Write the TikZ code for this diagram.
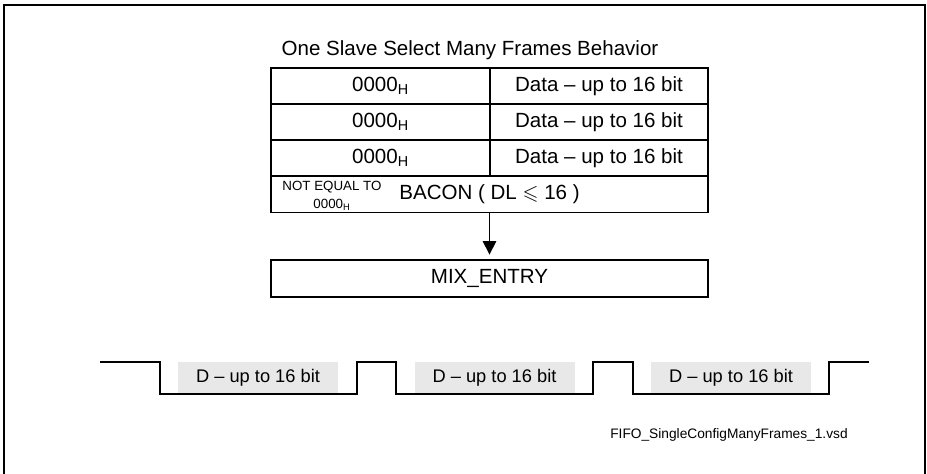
\documentclass[tikz,border=0pt]{standalone}
\usepackage{amssymb}
\usepackage{fontspec}
\setmainfont{Liberation Sans}
\usetikzlibrary{arrows.meta,positioning}
\definecolor{framegray}{HTML}{E8E8E8}

\begin{document}
\begin{tikzpicture}[x=.75pt,y=-.75pt,font=\fontsize{15.4}{18}\selectfont,
    line width=1.1pt,
    cell/.style={draw,inner sep=0pt,minimum height=27pt},
    idcell/.style={cell,minimum width=164.3pt},
    datacell/.style={cell,minimum width=163.5pt},
    widecell/.style={cell,minimum width=327.8pt},
    dframe/.style={fill=framegray,inner sep=0pt,minimum width=120pt,minimum height=24pt,font=\fontsize{13.7}{16}\selectfont},
    smalltext/.style={font=\fontsize{10}{12}\selectfont,inner sep=0pt}]
        \useasboundingbox (0,0) rectangle (927,474);
        \draw[line width=.9pt] (4,474) -- (4,5) -- (925,5) -- (925,474);

        \node (title) at (470,50) {One Slave Select Many Frames Behavior};

        \node[idcell] (id1) at (380.5,86) {0000\textsubscript{H}};
        \node[datacell] (data1) at (599,86) {Data -- up to 16 bit};
        \node[idcell] (id2) at (380.5,122) {0000\textsubscript{H}};
        \node[datacell] (data2) at (599,122) {Data -- up to 16 bit};
        \node[idcell] (id3) at (380.5,158) {0000\textsubscript{H}};
        \node[datacell] (data3) at (599,158) {Data -- up to 16 bit};
        \node[widecell] (bacon) at (489.5,194.5) {BACON ( DL $\leqslant$ 16 )};
        \node[smalltext] (noteq) at (332,187) {NOT EQUAL TO};
        \node[smalltext] (noteqval) at (332,205) {0000\textsubscript{H}};

        \node[widecell,minimum height=27.8pt] (mix) at (489.5,278.5) {MIX\_ENTRY};
        \draw[-{Triangle[length=10pt,width=10pt]},shorten >=3.5pt] (bacon.south) -- (mix.north);

        % frames on the line
        \node[dframe] (frame1) at (258,377.5) {D -- up to 16 bit};
        \node[dframe] (frame2) at (494.5,377.5) {D -- up to 16 bit};
        \node[dframe] (frame3) at (731,377.5) {D -- up to 16 bit};
        \draw (100,362) -- (160,362) -- (160,394) -- (357,394) -- (357,362) -- (396,362)
          -- (396,394) -- (593,394) -- (593,362) -- (633,362) -- (633,394) -- (829,394)
          -- (829,362) -- (869,362);

        \node[font=\fontsize{10.3}{12}\selectfont] (fname) at (729,435) {FIFO\_SingleConfigManyFrames\_1.vsd};
      \end{tikzpicture}
\end{document}
